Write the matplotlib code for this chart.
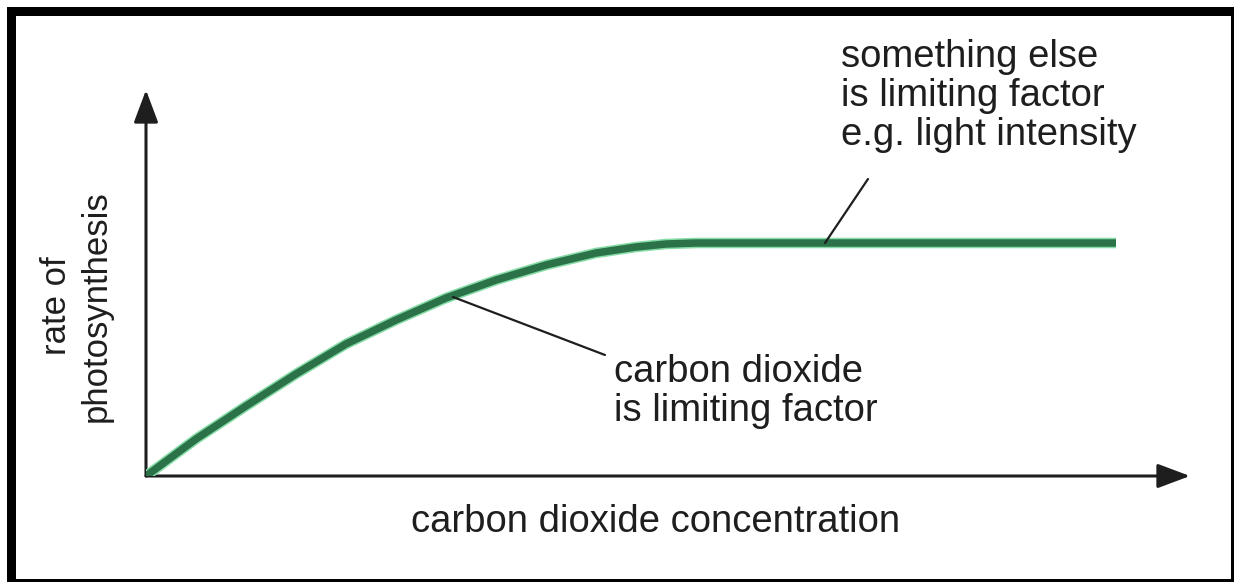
import matplotlib
matplotlib.use("Agg")
import matplotlib.pyplot as plt
from matplotlib.patches import Rectangle
import matplotlib.patheffects as pe

plt.rcParams['font.family'] = ['Liberation Sans', 'DejaVu Sans']

# CO2 concentration (arbitrary units) and rate of photosynthesis
co2 = [0.0, 0.5, 1.0, 1.5, 2.0, 2.5, 3.0, 3.5, 4.0, 4.5, 4.9, 5.2, 5.5, 9.7]
rate = [0.0, 0.37, 0.70, 1.02, 1.32, 1.56, 1.78, 1.96, 2.11, 2.23, 2.29, 2.32, 2.33, 2.33]

x_label = "carbon dioxide concentration"
y_label = "rate of\nphotosynthesis"
note_co2 = "carbon dioxide\nis limiting factor"
note_other = "something else\nis limiting factor\ne.g. light intensity"

W, H = 1236, 584
fig = plt.figure(figsize=(W / 100, H / 100), dpi=100)
fig.patch.set_facecolor("white")

# frame around the picture
for (x0, y0, w, h) in [(7, 7, 1227, 9), (7, 7, 9, 575), (1231, 7, 3, 575), (7, 579, 1227, 3)]:
    fig.add_artist(Rectangle((x0 / W, 1 - (y0 + h) / H), w / W, h / H,
                             transform=fig.transFigure, color="black", lw=0))

ax = fig.add_axes([146 / W, 108 / H, 1044 / W, 386 / H])
ax.set_xlim(0, 10.44)
ax.set_ylim(0, 3.86)
ax.axis("off")

ink = "#1e1e1e"
arrow = dict(arrowstyle="-|>,head_length=0.8,head_width=0.3", lw=2.2,
             color=ink, mutation_scale=25, shrinkA=0, shrinkB=0)
ax.annotate("", xy=(1, 0), xytext=(0, 0), xycoords="axes fraction", arrowprops=arrow)
ax.annotate("", xy=(0, 1), xytext=(0, 0), xycoords="axes fraction", arrowprops=arrow)

ax.plot(co2, rate, color="#2c7248", lw=5.4, solid_capstyle="butt", solid_joinstyle="round",
        path_effects=[pe.Stroke(linewidth=7.6, foreground="#86dca6"), pe.Normal()], zorder=3)

# leader lines
ax.annotate("", xy=(3.07, 1.79), xytext=(4.59, 1.21),
            arrowprops=dict(arrowstyle="-", lw=1.6, color=ink, shrinkA=0, shrinkB=0))
ax.annotate("", xy=(6.79, 2.33), xytext=(7.22, 2.97),
            arrowprops=dict(arrowstyle="-", lw=1.6, color=ink, shrinkA=0, shrinkB=0))

fs = 27.5
ax.text(6.95, 4.37, note_other, ha="left", va="top", fontsize=fs, color=ink,
        linespacing=1.1, clip_on=False)
ax.text(4.68, 1.22, note_co2, ha="left", va="top", fontsize=fs, color=ink,
        linespacing=1.1, clip_on=False)
ax.text(5.10, -0.46, x_label, ha="center", va="center", fontsize=fs, color=ink, clip_on=False)
ax.text(-0.70, 1.70, y_label, ha="center", va="center", rotation=90, fontsize=25,
        color=ink, linespacing=1.25, clip_on=False)

fig.savefig("out.png", dpi=100, facecolor="white")
